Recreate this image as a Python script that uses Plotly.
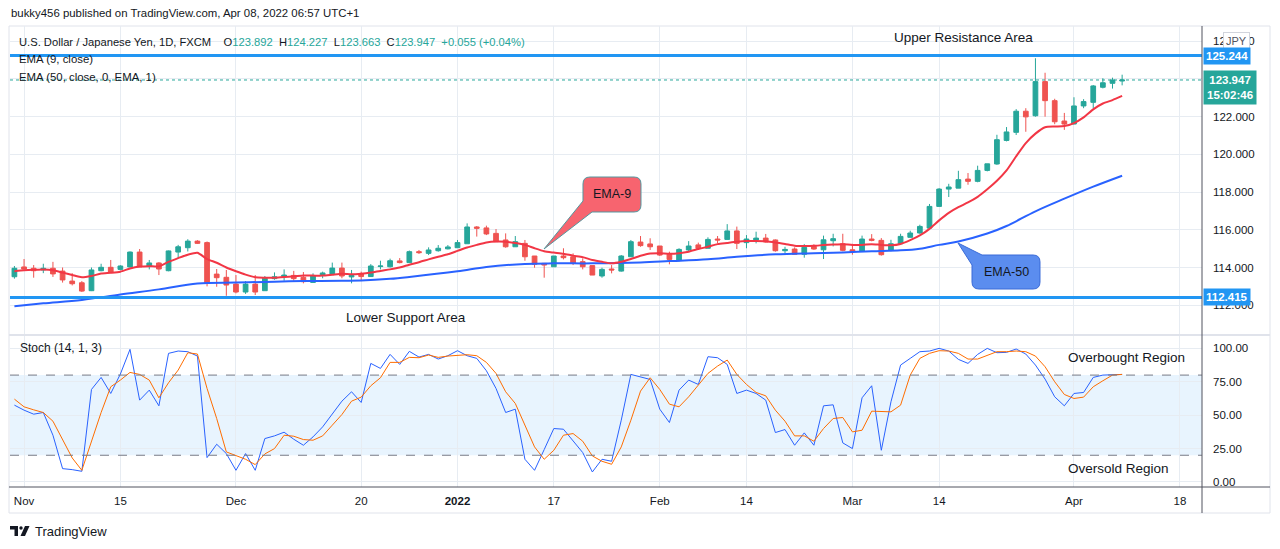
import pandas as pd
import plotly.graph_objects as go

# USD/JPY daily bars (FXCM)
dates = pd.bdate_range("2021-10-29", "2022-04-08")

opens = [
    113.51, 114.03, 113.96, 113.87, 113.96, 113.81, 113.28, 113.19, 112.77, 113.83,
    114.01, 113.90, 114.03, 114.82, 114.08, 114.24, 113.83, 114.82, 115.05, 115.40,
    115.32, 113.65, 113.48, 113.12, 112.70, 113.12, 112.77, 113.41, 113.52, 113.58,
    113.48, 113.21, 113.58, 113.66, 113.97, 113.50, 113.66, 113.52, 114.05, 114.04,
    114.35, 114.26, 114.84, 114.75, 114.89, 114.99, 115.05, 115.26, 116.15, 116.10,
    115.81, 115.46, 115.10, 115.28, 114.61, 114.22, 114.04, 114.61, 114.57, 114.31,
    114.10, 113.55, 113.92, 113.81, 114.57, 115.35, 115.25, 115.14, 114.70, 114.40,
    114.93, 115.20, 115.02, 115.51, 115.49, 115.94, 115.32, 115.46, 115.56, 115.46,
    114.89, 114.98, 114.70, 115.12, 114.94, 115.42, 115.26, 114.94, 114.86, 115.51,
    115.44, 114.91, 115.26, 115.60, 115.83, 116.09, 117.24, 118.16, 118.21, 118.69,
    118.57, 119.15, 119.49, 120.74, 121.17, 122.29, 122.05, 123.86, 122.85, 121.77,
    121.61, 122.57, 122.76, 123.56, 123.77, 123.892,
]
highs = [
    114.08, 114.45, 114.13, 114.20, 114.30, 114.00, 113.70, 113.28, 114.00, 114.20,
    114.40, 114.12, 114.85, 114.98, 114.40, 114.28, 114.90, 115.20, 115.50, 115.45,
    115.38, 113.92, 113.87, 113.60, 113.28, 113.60, 113.55, 113.74, 113.90, 113.82,
    113.76, 113.69, 113.78, 114.26, 114.26, 113.87, 113.78, 114.18, 114.36, 114.47,
    114.50, 114.90, 114.93, 115.07, 115.19, 115.19, 115.46, 116.34, 116.20, 116.22,
    116.04, 115.81, 115.67, 115.46, 114.61, 114.22, 114.61, 115.02, 114.75, 114.49,
    114.10, 113.99, 114.13, 114.66, 115.46, 115.67, 115.55, 115.14, 114.84, 115.02,
    115.40, 115.32, 115.60, 115.67, 116.30, 116.17, 115.72, 115.90, 115.78, 115.49,
    115.10, 115.07, 115.24, 115.23, 115.69, 115.79, 115.79, 115.26, 115.69, 115.77,
    115.56, 115.47, 115.79, 115.95, 116.27, 117.37, 118.21, 118.44, 119.13, 119.01,
    119.40, 119.50, 121.04, 121.45, 122.40, 122.45, 125.10, 124.33, 122.95, 122.20,
    123.03, 122.93, 123.68, 124.04, 124.07, 124.227,
]
lows = [
    113.41, 113.90, 113.46, 113.70, 113.50, 113.20, 113.05, 112.70, 112.75, 113.80,
    113.72, 113.85, 114.00, 114.03, 113.90, 113.60, 113.80, 114.50, 114.85, 115.25,
    113.00, 112.98, 112.50, 112.63, 112.60, 112.54, 112.77, 113.35, 113.30, 113.30,
    113.16, 113.20, 113.43, 113.60, 113.43, 113.16, 113.28, 113.50, 113.90, 114.00,
    114.22, 114.24, 114.72, 114.66, 114.84, 114.96, 115.05, 115.26, 115.64, 115.72,
    115.37, 115.05, 115.10, 114.36, 113.99, 113.46, 114.04, 114.43, 114.13, 113.90,
    113.60, 113.46, 113.69, 113.78, 114.57, 115.10, 114.93, 114.61, 114.17, 114.31,
    114.84, 114.93, 115.02, 115.28, 115.49, 114.98, 115.02, 115.28, 115.32, 114.84,
    114.75, 114.70, 114.52, 114.94, 114.45, 115.12, 114.86, 114.68, 114.86, 115.39,
    114.63, 114.86, 115.26, 115.60, 115.79, 116.09, 117.24, 117.74, 118.21, 118.39,
    118.52, 119.10, 119.45, 120.69, 121.03, 121.20, 122.00, 122.00, 121.60, 121.30,
    121.60, 122.45, 122.43, 123.50, 123.49, 123.663,
]
closes = [
    113.96, 113.92, 113.83, 113.96, 113.66, 113.34, 113.14, 112.75, 113.87, 114.01,
    113.75, 114.08, 114.82, 114.03, 114.24, 113.92, 114.88, 115.10, 115.40, 115.28,
    113.16, 113.46, 113.07, 112.70, 113.12, 112.70, 113.43, 113.51, 113.60, 113.41,
    113.25, 113.55, 113.71, 113.97, 113.55, 113.58, 113.52, 114.08, 114.08, 114.36,
    114.26, 114.84, 114.79, 114.93, 115.02, 115.09, 115.32, 116.15, 116.08, 115.78,
    115.37, 115.10, 115.37, 114.57, 114.17, 114.13, 114.61, 114.52, 114.22, 114.04,
    113.60, 113.90, 113.87, 114.61, 115.37, 115.16, 115.10, 114.66, 114.43, 114.96,
    115.14, 115.02, 115.49, 115.46, 115.94, 115.28, 115.51, 115.56, 115.35, 114.89,
    114.96, 114.70, 115.07, 114.98, 115.47, 115.53, 114.91, 114.85, 115.51, 115.44,
    114.68, 115.26, 115.65, 115.83, 116.18, 117.24, 118.16, 118.27, 118.66, 118.57,
    119.15, 119.50, 120.78, 121.19, 122.29, 121.99, 123.86, 122.85, 121.73, 121.61,
    122.57, 122.80, 123.63, 123.80, 123.95, 123.947,
]

# EMA 9 (read per bar)
ema9 = [
    113.80, 113.85, 113.88, 113.90, 113.86, 113.73, 113.60, 113.48, 113.55, 113.68,
    113.72, 113.78, 113.95, 114.05, 114.07, 114.06, 114.30, 114.50, 114.68, 114.78,
    114.45, 114.25, 114.00, 113.80, 113.62, 113.48, 113.46, 113.46, 113.50, 113.53,
    113.57, 113.57, 113.57, 113.62, 113.67, 113.64, 113.67, 113.73, 113.82, 113.90,
    114.00, 114.15, 114.28, 114.43, 114.57, 114.70, 114.88, 115.06, 115.20, 115.33,
    115.38, 115.37, 115.30, 115.20, 115.02, 114.86, 114.79, 114.73, 114.63, 114.55,
    114.40, 114.30, 114.22, 114.30, 114.45, 114.62, 114.74, 114.76, 114.73, 114.76,
    114.84, 114.98, 115.10, 115.24, 115.30, 115.36, 115.40, 115.41, 115.39, 115.33,
    115.25, 115.16, 115.14, 115.15, 115.19, 115.22, 115.24, 115.20, 115.20, 115.24,
    115.20, 115.18, 115.25, 115.45, 115.70, 116.05, 116.50, 116.90, 117.20, 117.45,
    117.75, 118.15, 118.60, 119.15, 119.90, 120.60, 121.10, 121.44, 121.48, 121.50,
    121.66, 121.96, 122.39, 122.70, 122.88, 123.10,
]

# EMA 50 (read at sample bars)
ema50_bar = [0, 3, 7, 11, 15, 19, 23, 27, 30, 34, 36, 39, 41, 46, 49, 53, 56, 60,
             65, 68, 72, 75, 79, 83, 86, 89, 92, 94, 96, 98, 101, 103, 106, 109, 112, 115]
ema50 = [111.95, 112.10, 112.28, 112.57, 112.84, 113.15, 113.20, 113.25, 113.28, 113.30,
         113.31, 113.40, 113.50, 113.80, 114.03, 114.19, 114.22, 114.22, 114.27, 114.34,
         114.44, 114.57, 114.70, 114.76, 114.80, 114.86, 114.91, 115.00, 115.20, 115.38,
         115.80, 116.20, 116.98, 117.65, 118.29, 118.87]

# Stochastic (14, 1, 3)
stoch_k = [
    57.5, 53.75, 50.75, 52, 35, 10, 9.25, 8, 69.25, 78.25,
    66.25, 80.75, 99.25, 61.25, 68.75, 57, 96.25, 98, 97.5, 94.25,
    18.25, 28.25, 21.25, 8.75, 21.25, 8.75, 32.5, 34.5, 37.25, 32,
    27.5, 33.75, 41.25, 51.25, 60.5, 67.5, 59.5, 88.75, 85, 95.5,
    88, 97.75, 93.5, 95.5, 92, 94.5, 98.25, 94.5, 92.5, 83.25,
    70, 52, 54.5, 17, 8.75, 24.25, 40, 39.5, 30.5, 22,
    7.5, 17, 15.5, 46.25, 80.5, 78.75, 76.75, 54.5, 44.5, 68.75,
    76.25, 73, 93.75, 93, 88, 66.25, 68.75, 66.25, 61.25, 37,
    39.25, 27.5, 36.75, 27.5, 57, 57.75, 29.25, 25, 63, 72,
    23.75, 60, 87.5, 92.5, 97.5, 98, 100, 98, 91.75, 88.75,
    95.5, 100, 96.75, 97, 99.5, 95.75, 87.5, 77, 63.75, 57,
    66.25, 67, 78.25, 80, 80.5, 80.5,
]
stoch_d = [
    62, 56.25, 54, 52, 45.5, 32, 18, 8.75, 30.5, 52,
    71.25, 76.25, 82, 80.5, 76.25, 63, 74.25, 83.75, 96.75, 95.75,
    70, 47.5, 22.5, 19.5, 17, 13, 21, 25, 35, 34.25,
    31.75, 31.25, 34.5, 42.5, 50.5, 60.5, 63.5, 72, 78, 89.5,
    89.5, 93.25, 93, 95, 93.25, 94.25, 95, 95.25, 94.5, 89.5,
    81.25, 67.5, 58.75, 42, 26.25, 17, 23.75, 35, 36.25, 30.5,
    19.5, 15.5, 13.25, 26.25, 46.25, 68, 78, 69.25, 58.25, 56.25,
    63.75, 72.5, 81.25, 86.75, 91.25, 80.5, 73, 67, 64.5, 53.75,
    45.5, 34.5, 34.5, 30.5, 40, 47.5, 48.25, 37.5, 38.75, 53,
    52.5, 52.5, 57.5, 80, 92.5, 96.25, 98.25, 98, 96.25, 92,
    92, 95, 97.5, 97.5, 98, 97.5, 94.25, 86.25, 75, 65.5,
    62.5, 63.5, 71.25, 75.75, 80, 80.5,
]

resistance = 125.244
support = 112.415
change_text = "+0.055 (+0.04%)"
countdown = "15:02:46"

tick_dates = ["2021-11-01", "2021-11-15", "2021-12-01", "2021-12-20", "2022-01-03",
              "2022-01-17", "2022-02-01", "2022-02-14", "2022-03-01", "2022-03-14",
              "2022-04-01", "2022-04-18"]
tick_text = ["Nov", "15", "Dec", "20", "<b>2022</b>", "17", "Feb", "14", "Mar", "14",
             "Apr", "18"]
price_ticks = [112, 114, 116, 118, 120, 122, 124, 126]
stoch_ticks = [0, 25, 50, 75, 100]

GREEN = "#26a69a"
RED = "#ef5350"
BLUE = "#2196f3"
TEXT = "#131722"
GRID = "#e7ecf2"
FONT = "Liberation Sans"

# the page puts the figure 8px in from the top-left corner
PAGE_OFF = 8
# plot area in window pixels: x 10..1202, y 26..487
L_PX, R_PX, T_PX, B_PX = 10, 1202, 26, 487


def xp(px):
    return (px - L_PX) / (R_PX - L_PX)


def yp(py):
    return (B_PX - py) / (B_PX - T_PX)


def path(cmds):
    out = []
    for c in cmds:
        if c[0] == "Z":
            out.append("Z")
            continue
        pts = c[1:]
        coords = []
        for i in range(0, len(pts), 2):
            coords.append(f"{xp(pts[i]):.5f},{yp(pts[i + 1]):.5f}")
        out.append(c[0] + " " + " ".join(coords))
    return " ".join(out)


split = yp(335)

fig = go.Figure()

fig.add_trace(go.Candlestick(
    x=dates, open=opens, high=highs, low=lows, close=closes,
    increasing=dict(line=dict(color=GREEN, width=1), fillcolor=GREEN),
    decreasing=dict(line=dict(color=RED, width=1), fillcolor=RED),
    xaxis="x", yaxis="y", hoverinfo="skip",
))
fig.add_trace(go.Scatter(x=dates[ema50_bar], y=ema50, mode="lines",
                         line=dict(color="#2962ff", width=2, shape="spline"),
                         xaxis="x", yaxis="y", hoverinfo="skip"))
fig.add_trace(go.Scatter(x=dates, y=ema9, mode="lines",
                         line=dict(color="#f23645", width=2, shape="spline", smoothing=0.6),
                         xaxis="x", yaxis="y", hoverinfo="skip"))
fig.add_trace(go.Scatter(x=dates, y=stoch_k, mode="lines",
                         line=dict(color="#2962ff", width=1),
                         xaxis="x2", yaxis="y2", hoverinfo="skip"))
fig.add_trace(go.Scatter(x=dates, y=stoch_d, mode="lines",
                         line=dict(color="#ff6d00", width=1),
                         xaxis="x2", yaxis="y2", hoverinfo="skip"))

x_range = ["2021-10-28 13:00", "2022-04-20 07:00"]
breaks = [dict(bounds=["sat", "mon"])]

shapes = [
    # stoch band
    dict(type="rect", xref="paper", yref="y2", x0=0, x1=1, y0=20, y1=80,
         fillcolor="rgba(33,150,243,0.1)", line=dict(width=0), layer="below"),
    dict(type="line", xref="paper", yref="y2", x0=0, x1=1, y0=80, y1=80,
         line=dict(color="#787b86", width=1, dash="dash")),
    dict(type="line", xref="paper", yref="y2", x0=0, x1=1, y0=20, y1=20,
         line=dict(color="#787b86", width=1, dash="dash")),
    # horizontal levels
    dict(type="line", xref="paper", yref="y", x0=0, x1=1, y0=resistance, y1=resistance,
         line=dict(color=BLUE, width=3)),
    dict(type="line", xref="paper", yref="y", x0=0, x1=1, y0=support, y1=support,
         line=dict(color=BLUE, width=3)),
    dict(type="line", xref="paper", yref="y", x0=0, x1=1, y0=closes[-1], y1=closes[-1],
         line=dict(color=GREEN, width=1, dash="dot")),
    # frame, pane divider, scale borders
    dict(type="rect", xref="paper", yref="paper", x0=xp(9), x1=xp(1270), y0=yp(513), y1=yp(26),
         line=dict(color="#e0e3eb", width=1), layer="below"),
    dict(type="line", xref="paper", yref="paper", x0=xp(9), x1=xp(1270), y0=split, y1=split,
         line=dict(color="#e0e3eb", width=2)),
    dict(type="line", xref="paper", yref="paper", x0=1, x1=1, y0=yp(513), y1=yp(26),
         line=dict(color="#50535e", width=1)),
    dict(type="line", xref="paper", yref="paper", x0=xp(9), x1=xp(1270), y0=0, y1=0,
         line=dict(color="#50535e", width=1)),
    # EMA-9 callout
    dict(type="path", xref="paper", yref="paper",
         path=path([("M", 590, 177), ("L", 634, 177), ("Q", 641, 177, 641, 184),
                    ("L", 641, 205), ("Q", 641, 212, 634, 212), ("L", 592, 212),
                    ("L", 544, 249), ("L", 583, 201), ("L", 583, 184),
                    ("Q", 583, 177, 590, 177), ("Z",)]),
         fillcolor="#f7646f", line=dict(color="#55979e", width=1)),
    # EMA-50 callout
    dict(type="path", xref="paper", yref="paper",
         path=path([("M", 982, 255), ("L", 1033, 255), ("Q", 1040, 255, 1040, 262),
                    ("L", 1040, 282), ("Q", 1040, 289, 1033, 289), ("L", 979, 289),
                    ("Q", 972, 289, 972, 282), ("L", 972, 265), ("L", 958, 243), ("Z",)]),
         fillcolor="#5b8def", line=dict(color="#3a6bd8", width=1)),
    # TradingView logo
    dict(type="path", xref="paper", yref="paper",
         path=path([("M", 10, 526), ("L", 18, 526), ("L", 18, 536), ("L", 14.5, 536),
                    ("L", 14.5, 529.5), ("L", 10, 529.5), ("Z",)]),
         fillcolor=TEXT, line=dict(width=0)),
    dict(type="circle", xref="paper", yref="paper", x0=xp(19.3), x1=xp(22.7),
         y0=yp(529.7), y1=yp(526.3), fillcolor=TEXT, line=dict(width=0)),
    dict(type="path", xref="paper", yref="paper",
         path=path([("M", 25, 526), ("L", 29.5, 526), ("L", 25, 536), ("L", 20.5, 536), ("Z",)]),
         fillcolor=TEXT, line=dict(width=0)),
]


def note(text, x, y, size=11, anchor="left", color=TEXT, **kw):
    return dict(text=text, x=xp(x), y=yp(y), xref="paper", yref="paper",
                xanchor=anchor, yanchor="middle", showarrow=False,
                font=dict(family=FONT, size=size, color=color), **kw)


def val(v, fmt=".3f"):
    return f'<span style="color:{GREEN}">{v:{fmt}}</span>'


gap = "\u00a0\u00a0"
legend_line = (f"U.S. Dollar / Japanese Yen, 1D, FXCM{gap}\u00a0\u00a0"
               f"O{val(opens[-1])}{gap}H{val(highs[-1])}{gap}L{val(lows[-1])}{gap}"
               f"C{val(closes[-1])}{gap}"
               f'<span style="color:{GREEN}">{change_text}</span>')

annotations = [
    note("bukky456 published on TradingView.com, Apr 08, 2022 06:57 UTC+1", 9, 13, size=11.4),
    note(legend_line, 17, 42, size=11.2),
    note("EMA (9, close)", 17, 59, size=11.4),
    note("EMA (50, close, 0, EMA, 1)", 17, 77, size=11.4),
    note("Upper Resistance Area", 963, 37, size=13.5, anchor="center"),
    note("Lower Support Area", 406, 317, size=13.5, anchor="center"),
    note("Stoch (14, 1, 3)", 18, 348, size=12),
    note("Overbought Region", 1066, 357, size=13.5),
    note("Oversold Region", 1066, 468, size=13.5),
    note("EMA-9", 612, 194, size=12.5, anchor="center"),
    note("EMA-50", 1006, 272, size=12.5, anchor="center"),
    note("TradingView", 33, 531, size=13),
    note("JPY", 1236.5, 41.5, size=11, anchor="center", color="#50535e",
         bgcolor="white", bordercolor="#d1d4dc", borderwidth=1, borderpad=2),
    dict(text=f"<b>{resistance:.3f}</b>", x=xp(1203), y=resistance, xref="paper", yref="y",
         xanchor="left", yanchor="middle", showarrow=False, bgcolor=BLUE, borderpad=2,
         font=dict(family=FONT, size=11.5, color="white")),
    dict(text=f"<b>{support:.3f}</b>", x=xp(1203), y=support, xref="paper", yref="y",
         xanchor="left", yanchor="middle", showarrow=False, bgcolor=BLUE, borderpad=2,
         font=dict(family=FONT, size=11.5, color="white")),
    dict(text=f"<b>{closes[-1]:.3f}<br>{countdown}</b>", x=xp(1203), y=closes[-1],
         xref="paper", yref="y", xanchor="left", yanchor="middle", yshift=-8,
         showarrow=False, bgcolor=GREEN, borderpad=3,
         font=dict(family=FONT, size=11.5, color="white")),
]

axis_font = dict(family=FONT, size=11.5, color=TEXT)

fig.update_layout(
    width=1280 - PAGE_OFF, height=549 - PAGE_OFF,
    margin=dict(l=L_PX - PAGE_OFF, r=1280 - R_PX, t=T_PX - PAGE_OFF, b=549 - B_PX),
    paper_bgcolor="white", plot_bgcolor="white",
    showlegend=False, hovermode=False,
    font=dict(family=FONT, size=11, color=TEXT),
    xaxis=dict(type="date", range=x_range, rangebreaks=breaks, anchor="y",
               tickvals=tick_dates, showticklabels=False, showgrid=True, gridcolor=GRID,
               zeroline=False, rangeslider=dict(visible=False), fixedrange=True),
    xaxis2=dict(type="date", range=x_range, rangebreaks=breaks, anchor="y2", matches="x",
                tickvals=tick_dates, ticktext=tick_text, showgrid=True, gridcolor=GRID,
                ticks="", tickfont=axis_font, ticklabelstandoff=5, zeroline=False),
    yaxis=dict(domain=[split, 1], side="right", range=[110.42, 126.81], tickvals=price_ticks,
               tickformat=".3f", showgrid=True, gridcolor=GRID, ticks="", zeroline=False,
               tickfont=axis_font, ticklabelstandoff=10, anchor="x"),
    yaxis2=dict(domain=[0, split], side="right", range=[-3.75, 110], tickvals=stoch_ticks,
                tickformat=".2f", showgrid=True, gridcolor=GRID, ticks="", zeroline=False,
                tickfont=axis_font, ticklabelstandoff=10, anchor="x2"),
    shapes=shapes,
    annotations=annotations,
)

fig.write_html("out.html")
